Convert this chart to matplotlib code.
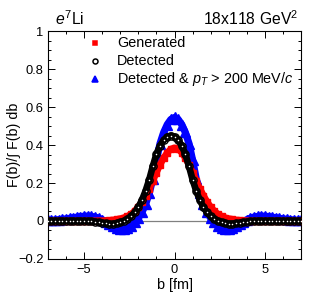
import numpy as np
import matplotlib
matplotlib.use("Agg")
from matplotlib import pyplot as plt
from matplotlib.ticker import MultipleLocator, FuncFormatter

plt.rcParams['font.family'] = ['Liberation Sans', 'DejaVu Sans']
plt.rcParams['mathtext.fontset'] = 'custom'
plt.rcParams['mathtext.rm'] = 'Liberation Sans'
plt.rcParams['mathtext.it'] = 'Liberation Sans:italic'

# impact parameter grid [fm]
b_fm = np.linspace(-7, 7, 71)

generated = [
    0.000, 0.000, 0.000, 0.000, 0.000, 0.000, 0.000, 0.000, 0.000, 0.000,
    0.000, 0.000, 0.000, 0.000, 0.001, 0.001, 0.002, 0.003, 0.005, 0.008,
    0.012, 0.017, 0.025, 0.036, 0.052, 0.074, 0.101, 0.134, 0.171, 0.212,
    0.255, 0.296, 0.332, 0.360, 0.379,
    0.385,
    0.379, 0.360, 0.332, 0.296, 0.255, 0.212, 0.171, 0.134, 0.101, 0.074,
    0.052, 0.036, 0.025, 0.017, 0.012, 0.008, 0.005, 0.003, 0.002, 0.001,
    0.001, 0.000, 0.000, 0.000, 0.000, 0.000, 0.000, 0.000, 0.000, 0.000,
    0.000, 0.000, 0.000, 0.000, 0.000,
]

detected = [
    0.000, 0.000, 0.000, 0.000, 0.000, 0.000, 0.000, 0.000, 0.000, 0.000,
    0.000, -0.001, -0.002, -0.004, -0.007, -0.010, -0.013, -0.015, -0.015, -0.012,
    -0.007, 0.000, 0.010, 0.025, 0.045, 0.072, 0.110, 0.158, 0.217, 0.288,
    0.352, 0.397, 0.425, 0.444,
    0.450,
    0.444, 0.425, 0.397, 0.352, 0.288, 0.217, 0.158, 0.110, 0.072, 0.045,
    0.025, 0.010, 0.000, -0.007, -0.012, -0.015, -0.015, -0.013, -0.010, -0.007,
    -0.004, -0.002, -0.001, 0.000, 0.000, 0.000, 0.000, 0.000, 0.000, 0.000,
    0.000, 0.000, 0.000, 0.000, 0.000, 0.000,
]

detected_pt = [
    0.003, 0.004, 0.005, 0.007, 0.009, 0.011, 0.014, 0.017, 0.020, 0.023,
    0.025, 0.026, 0.024, 0.021, 0.015, 0.007, -0.003, -0.014, -0.026, -0.036,
    -0.042, -0.042, -0.036, -0.024, -0.007, 0.015, 0.046, 0.088, 0.145, 0.222,
    0.320, 0.408, 0.466, 0.508, 0.535,
    0.545,
    0.535, 0.508, 0.466, 0.408, 0.320, 0.222, 0.145, 0.088, 0.046, 0.015,
    -0.007, -0.024, -0.036, -0.042, -0.042, -0.036, -0.026, -0.014, -0.003, 0.007,
    0.015, 0.021, 0.024, 0.026, 0.025, 0.023, 0.020, 0.017, 0.014, 0.011,
    0.009, 0.007, 0.005, 0.004, 0.003,
]

fig = plt.figure(figsize=(3.17, 3.05), dpi=100)
ax = fig.add_axes([0.151, 0.151, 0.799, 0.747])

ax.axhline(0, color='#808080', lw=0.9, zorder=1)

# blue: detected & pT cut
ax.plot(b_fm, detected_pt, color='blue', lw=5.2, zorder=2, solid_capstyle='round')
ax.plot(b_fm, detected_pt, ls='none', marker='^', ms=6.5, color='blue', mec='blue', zorder=2)
# red: generated
ax.plot(b_fm, generated, color='red', lw=4.8, zorder=3, solid_capstyle='round')
ax.plot(b_fm, generated, ls='none', marker='s', ms=4.6, color='red', zorder=3)
# black: detected (open circles)
ax.plot(b_fm, detected, color='black', lw=4.8, zorder=4, solid_capstyle='round')
ax.plot(b_fm, detected, ls='none', marker='o', ms=5.2, mfc='none', mec='black', mew=1.0, zorder=4)
ax.plot(b_fm, detected, ls='none', marker='o', ms=1.1, color='white', mec='none', zorder=5)

ax.set_xlim(-7, 7)
ax.set_ylim(-0.2, 1.0)
ax.xaxis.set_major_locator(MultipleLocator(5))
ax.xaxis.set_minor_locator(MultipleLocator(1))
ax.yaxis.set_major_locator(MultipleLocator(0.2))
ax.yaxis.set_minor_locator(MultipleLocator(0.05))
fmt = FuncFormatter(lambda v, p: ('%g' % round(v, 2)).replace('-', '\u2212'))
ax.xaxis.set_major_formatter(fmt)
ax.yaxis.set_major_formatter(fmt)
ax.tick_params(which='both', direction='in', top=True, right=True, labelsize=9.3, width=0.7)
ax.tick_params(which='major', length=5)
ax.tick_params(which='minor', length=2.5)
ax.tick_params(axis='x', pad=3.5)
ax.tick_params(axis='y', pad=3)
for s in ax.spines.values():
    s.set_linewidth(0.8)

# legend
rows = [(0.947, 's', 'red', 'red', 3.0, 'Generated'),
        (0.868, 'o', 'none', 'black', 3.6, 'Detected'),
        (0.789, '^', 'blue', 'blue', 4.4, r'Detected & $p_{T}$ > 200 MeV/$c$')]
for yy, m, fc, ec, ms, lab in rows:
    ax.plot([0.186], [yy], transform=ax.transAxes, ls='none', marker=m, ms=ms,
            mfc=fc, mec=ec, mew=1.1, clip_on=False)
    ax.text(0.273, yy, lab, transform=ax.transAxes, fontsize=10.4, va='center', ha='left')

fig.text(0.172, 0.918, r'$e^{7}$Li', fontsize=11.3, ha='left', va='baseline')
fig.text(0.940, 0.918, r'18x118 GeV$^{2}$', fontsize=11.3, ha='right', va='baseline')
fig.text(0.045, 0.525, u'F(b)/\u222b F(b) db', fontsize=10.3, rotation=90, ha='center', va='center')
fig.text(0.552, 0.066, 'b [fm]', fontsize=10.4, ha='center', va='center')

fig.savefig('out.png', dpi=100)
